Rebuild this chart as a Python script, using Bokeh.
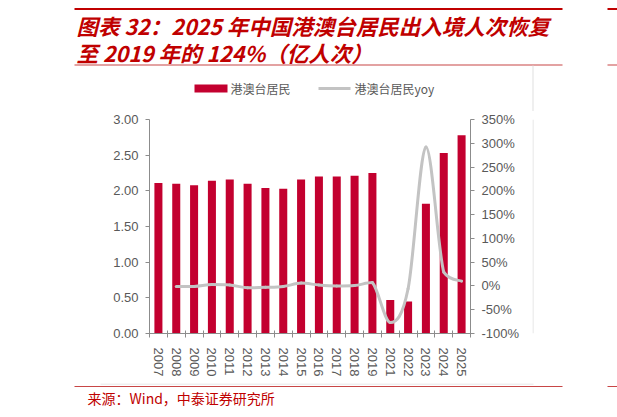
import math
from bokeh.plotting import figure
from bokeh.layouts import column, row
from bokeh.models import (Range1d, LinearAxis, FixedTicker, NumeralTickFormatter,
                          PrintfTickFormatter)
from bokeh.core.properties import value
from bokeh.embed import file_html
from bokeh.resources import INLINE

# ---------------- data ----------------
years = ["2007", "2008", "2009", "2010", "2011", "2012", "2013", "2014", "2015",
         "2016", "2017", "2018", "2019", "2021", "2022", "2023", "2024", "2025"]
visitors = [2.11, 2.10, 2.08, 2.14, 2.16, 2.10, 2.04, 2.03, 2.16,
            2.20, 2.20, 2.21, 2.25, 0.47, 0.45, 1.82, 2.53, 2.78]   # 亿人次
yoy = [None, -1, -1, 3, 2, -4, -3, -1, 6,
       2, 0, 1, 7, -77, -6, 292, 29, 10]                          # %
left_ticks = [0.0, 0.5, 1.0, 1.5, 2.0, 2.5, 3.0]
right_ticks = [-100, -50, 0, 50, 100, 150, 200, 250, 300, 350]
legend_labels = ["港澳台居民", "港澳台居民yoy"]
title_lines = ["图表 32：2025 年中国港澳台居民出入境人次恢复",
               "至 2019 年的 124%（亿人次）"]
source_text = "来源：Wind，中泰证券研究所"

# ---------------- style ----------------
BAR = "#C3002F"
LINE = "#C3C3C3"
RED = "#C00000"
RULE = "#C84646"
GREY = "#E0E0E0"
AXIS = "#8C8C8C"
LABEL = "#595959"
CJK = "Noto Sans CJK SC"
LAT = "Liberation Sans"

W, H = 617, 417
HEAD_H = 111          # header band height
FOOT_Y = 383          # footer band starts here
CHART_W = 532         # chart panel width (grey frame line at its right edge)
FL, FR, FT, FB = 149, 470, 119, 333   # plot frame edges in page px

def panel(x0, x1, y0, y1):
    """A blank figure whose frame covers the whole canvas, in page px (y down)."""
    f = figure(width=x1 - x0, height=y1 - y0, output_backend="svg", toolbar_location=None,
               x_range=Range1d(x0, x1), y_range=Range1d(y1, y0),
               x_axis_location=None, y_axis_location=None,
               min_border=0, min_border_left=0, min_border_right=0,
               min_border_top=0, min_border_bottom=0)
    f.grid.visible = False
    f.outline_line_color = None
    f.background_fill_color = "white"
    f.border_fill_color = "white"
    return f

def band(f, l, r, t, b, color):
    f.quad(left=[l], right=[r], top=[t], bottom=[b], fill_color=color, line_color=None)

def txt(f, x, y, s, size, color, style="normal"):
    f.text(x=[x], y=[y], text=[s], text_font=value(CJK), text_font_size=value(size),
           text_font_style=style, text_color=color, text_baseline="middle", text_align="left")

# ---------------- header ----------------
head = panel(0, W, 0, HEAD_H)
band(head, 74, 562, 7.5, 9.5, RED)
band(head, 607, 617, 7.5, 9.5, RED)
band(head, 74, 562, 64, 65, RULE)
band(head, 607, 617, 64, 65, RULE)
band(head, 532, 533, 65, HEAD_H, GREY)
for i, line in enumerate(title_lines):
    txt(head, 76, 25 + 27 * i, line, "21.5px", RED, "bold italic")
# legend
band(head, 194, 227, 84, 92, BAR)
band(head, 318, 350, 86.5, 89.5, LINE)
txt(head, 230, 88, legend_labels[0], "12px", LABEL)
txt(head, 354, 88, legend_labels[1], "12px", LABEL)

# ---------------- chart ----------------
n = len(years)
xc = [i + 0.5 for i in range(n)]
p = figure(width=CHART_W, height=FOOT_Y - HEAD_H, output_backend="svg", toolbar_location=None,
           x_range=Range1d(0, n), y_range=Range1d(left_ticks[0], left_ticks[-1]),
           x_axis_location=None, y_axis_location=None,
           min_border_left=FL, min_border_right=CHART_W - FR,
           min_border_top=FT - HEAD_H, min_border_bottom=FOOT_Y - FB)
p.extra_y_ranges = {"yoy": Range1d(right_ticks[0], right_ticks[-1])}
p.grid.visible = False
p.outline_line_color = None
p.background_fill_color = "white"
p.border_fill_color = "white"

p.vbar(x=xc, top=visitors, width=0.45, fill_color=BAR, line_color=None)

# smoothed yoy line: bezier segments through every data point,
# control points kept inside each segment's value span (no overshoot)
pts = [(xc[i], yoy[i]) for i in range(n) if yoy[i] is not None]
m = len(pts)
bx0, by0, bx1, by1, cx0, cy0, cx1, cy1 = [], [], [], [], [], [], [], []
for k in range(m - 1):
    q0 = pts[max(k - 1, 0)]
    q1 = pts[k]
    q2 = pts[k + 1]
    q3 = pts[min(k + 2, m - 1)]
    lo, hi = min(q1[1], q2[1]), max(q1[1], q2[1])
    bx0.append(q1[0]); by0.append(q1[1])
    bx1.append(q2[0]); by1.append(q2[1])
    cx0.append(q1[0] + (q2[0] - q0[0]) / 6.0)
    cy0.append(min(hi, max(lo, q1[1] + (q2[1] - q0[1]) / 6.0)))
    cx1.append(q2[0] - (q3[0] - q1[0]) / 6.0)
    cy1.append(min(hi, max(lo, q2[1] - (q3[1] - q1[1]) / 6.0)))
p.bezier(x0=bx0, y0=by0, x1=bx1, y1=by1, cx0=cx0, cy0=cy0, cx1=cx1, cy1=cy1,
         line_color=LINE, line_width=3, line_cap="round", y_range_name="yoy")

def style_axis(ax):
    ax.axis_line_color = AXIS
    ax.axis_line_width = 1
    ax.major_tick_line_color = AXIS
    ax.minor_tick_line_color = None
    ax.major_label_text_font = LAT
    ax.major_label_text_font_size = "13px"
    ax.major_label_text_color = LABEL

left = LinearAxis(ticker=FixedTicker(ticks=left_ticks),
                  formatter=NumeralTickFormatter(format="0.00"))
style_axis(left)
left.major_tick_in = 0
left.major_tick_out = 4
left.major_label_standoff = 7
p.add_layout(left, "left")

right = LinearAxis(y_range_name="yoy", ticker=FixedTicker(ticks=right_ticks),
                   formatter=PrintfTickFormatter(format="%d%%"))
style_axis(right)
right.major_tick_in = 0
right.major_tick_out = 4
right.major_label_standoff = 7
p.add_layout(right, "right")

bottom = LinearAxis(ticker=FixedTicker(ticks=xc, minor_ticks=list(range(n + 1))),
                    major_label_overrides={xc[i]: years[i] for i in range(n)})
style_axis(bottom)
bottom.major_tick_line_color = None
bottom.minor_tick_line_color = AXIS
bottom.minor_tick_in = 3
bottom.minor_tick_out = 4
bottom.major_label_orientation = -math.pi / 2
bottom.major_label_standoff = 8
p.add_layout(bottom, "below")

# ---------------- right side strip ----------------
side = panel(CHART_W, W, HEAD_H, FOOT_Y)
band(side, 532, 533, HEAD_H, FOOT_Y, GREY)

# ---------------- footer ----------------
foot = panel(0, W, FOOT_Y, H)
band(foot, 100, 533, 383, 384, GREY)
band(foot, 74, 562, 385.5, 386.5, RULE)
band(foot, 607, 617, 385.5, 386.5, RULE)
txt(foot, 87, 397, source_text, "14px", RED)

root = column(head, row(p, side, spacing=0), foot, spacing=0)
open("out.html", "w").write(file_html(root, INLINE))
